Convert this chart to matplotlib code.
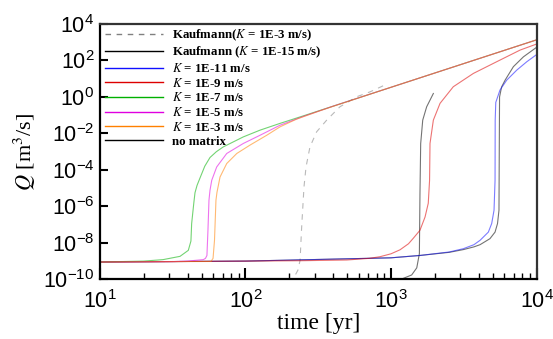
import numpy as np
import matplotlib
matplotlib.use("Agg")
import matplotlib.pyplot as plt
from matplotlib.lines import Line2D
from matplotlib.font_manager import FontProperties

plt.rcParams['font.family'] = 'Liberation Sans'
plt.rcParams['mathtext.fontset'] = 'custom'
plt.rcParams['mathtext.rm'] = 'Liberation Sans'
plt.rcParams['mathtext.it'] = 'Liberation Sans:italic'

# values, as log10(time [yr]) and log10(Q [m3/s])
kauf3_t = [2.29, 2.329, 2.36, 2.375, 2.386, 2.402, 2.416, 2.443, 2.489, 2.558, 2.649, 2.764, 2.856, 2.97]
kauf3_q = [-10.12, -9.96, -9.5, -8.96, -7.13, -4.93, -3.84, -2.74, -1.91, -1.27, -0.54, 0.01, 0.28, 0.70]

kauf15_t = [2.993, 3.062, 3.142, 3.177, 3.195, 3.199, 3.204, 3.218, 3.245, 3.291]
kauf15_q = [-10.11, -10.02, -9.76, -9.37, -8.59, -5.30, -2.55, -1.27, -0.54, 0.19]

k11_t = [1.0, 2.0, 3.0, 3.2, 3.4, 3.497, 3.57, 3.612, 3.669, 3.692, 3.708, 3.715, 3.716, 3.72, 3.749, 3.795, 3.864, 3.933, 4.0]
k11_q = [-9.05, -9.0, -8.82, -8.69, -8.5, -8.32, -8.1, -7.86, -7.41, -6.94, -6.21, -4.57, -1.27, -0.3, 0.38, 0.92, 1.47, 1.93, 2.32]

k9_t = [1.0, 2.0, 2.375, 2.696, 2.85, 2.924, 3.0, 3.062, 3.12, 3.153, 3.199, 3.234, 3.256, 3.265, 3.268, 3.291, 3.337, 3.428, 3.566, 3.726, 3.887, 4.0]
k9_q = [-9.05, -9.0, -8.98, -8.94, -8.85, -8.76, -8.6, -8.38, -8.05, -7.75, -7.31, -6.58, -5.83, -4.57, -2.55, -1.27, -0.35, 0.56, 1.29, 1.93, 2.57, 2.90]

k7_t = [1.0, 1.3, 1.433, 1.55, 1.607, 1.625, 1.63, 1.645, 1.653, 1.667, 1.687, 1.72, 1.756, 1.80, 1.847, 1.985, 2.10, 2.237, 2.4, 2.6, 3.0, 3.5, 4.0]
k7_q = [-9.05, -9.0, -8.92, -8.74, -8.41, -7.9, -6.94, -5.8, -5.25, -4.85, -4.45, -3.8, -3.32, -3.0, -2.74, -2.19, -1.82, -1.45, -1.03, -0.51, 0.53, 1.83, 3.13]

k5_t = [1.0, 1.5, 1.6, 1.71, 1.725, 1.735, 1.742, 1.749, 1.756, 1.768, 1.802, 1.871, 1.985, 2.10, 2.237, 2.4, 2.6, 3.0, 3.5, 4.0]
k5_q = [-9.05, -9.03, -9.0, -8.92, -8.85, -8.69, -7.31, -5.66, -5.12, -4.57, -3.84, -3.10, -2.55, -2.10, -1.55, -1.06, -0.51, 0.53, 1.83, 3.13]

k3_t = [1.0, 1.5, 1.763, 1.777, 1.787, 1.797, 1.804, 1.825, 1.871, 1.94, 2.031, 2.146, 2.237, 2.35, 2.5, 2.6, 3.0, 3.5, 4.0]
k3_q = [-9.05, -9.03, -9.02, -8.85, -7.86, -5.66, -5.23, -4.39, -3.65, -3.10, -2.64, -2.10, -1.64, -1.22, -0.79, -0.52, 0.53, 1.83, 3.13]

nomat_t = [1.0, 2.0, 3.0, 3.2, 3.4, 3.497, 3.57, 3.612, 3.68, 3.715, 3.732, 3.742, 3.744, 3.746, 3.76, 3.784, 3.841, 3.91, 4.0]
nomat_q = [-9.05, -9.0, -8.82, -8.69, -8.52, -8.37, -8.22, -8.1, -7.77, -7.41, -6.94, -6.21, -2.92, 0.0, 0.55, 0.92, 1.66, 2.20, 2.72]

labels = [r'Kaufmann($\mathit{K}$ = 1E-3 m/s)', r'Kaufmann ($\mathit{K}$ = 1E-15 m/s)',
          r'$\mathit{K}$ = 1E-11 m/s', r'$\mathit{K}$ = 1E-9 m/s', r'$\mathit{K}$ = 1E-7 m/s',
          r'$\mathit{K}$ = 1E-5 m/s', r'$\mathit{K}$ = 1E-3 m/s', 'no matrix']
colors = ['#808080', '#000000', '#1010ff', '#dd0000', '#00b000', '#e000e0', '#ff8000', '#000000']
series = [(kauf3_t, kauf3_q), (kauf15_t, kauf15_q), (k11_t, k11_q), (k9_t, k9_q),
          (k7_t, k7_q), (k5_t, k5_q), (k3_t, k3_q), (nomat_t, nomat_q)]

fig = plt.figure(figsize=(5.53, 3.39), dpi=100)
ax = fig.add_axes([0.1808, 0.176, 0.7894, 0.7532])

order = [0, 1, 7, 2, 3, 4, 5, 6]
for i in order:
    t, q = series[i]
    ls = (0, (5, 5)) if i == 0 else '-'
    ax.plot(10 ** np.array(t), 10 ** np.array(q), color=colors[i], lw=0.8,
            alpha=0.55, ls=ls)

ax.set_xscale('log')
ax.set_yscale('log')
ax.set_xlim(10, 1e4)
ax.set_ylim(1e-10, 1e4)
ax.set_yticks([10.0 ** e for e in range(-10, 5, 2)])
ax.yaxis.set_minor_locator(matplotlib.ticker.NullLocator())

for s in ['left', 'bottom']:
    ax.spines[s].set_linewidth(1.6)
    ax.spines[s].set_color('black')
for s in ['top', 'right']:
    ax.spines[s].set_linewidth(1.6)
    ax.spines[s].set_color('#333333')

ax.tick_params(which='major', direction='in', length=6, width=1.5, labelsize=15.5, pad=4)
ax.tick_params(axis='x', which='major', length=8, pad=8)
ax.tick_params(axis='x', which='minor', direction='in', length=4, width=1)

ax.set_xlabel('time [yr]', fontfamily='Liberation Serif', fontsize=17, labelpad=0)
ax.set_ylabel(r'$Q$ [m$^3$/s]', fontfamily='Liberation Serif', fontsize=16,
              math_fontfamily='stix', labelpad=4)

handles = [Line2D([], [], color=colors[i], lw=1.0, ls=((0, (4, 4)) if i == 0 else '-'))
           for i in range(8)]
prop = FontProperties(family='Liberation Serif', weight='bold', size=9.3, math_fontfamily='stix')
ax.legend(handles, labels, loc='upper left', bbox_to_anchor=(0.012, 0.985), frameon=False,
          prop=prop, handlelength=4.5, handletextpad=0.65, labelspacing=0.13, borderpad=0,
          borderaxespad=0)

fig.savefig('out.png', dpi=100)
